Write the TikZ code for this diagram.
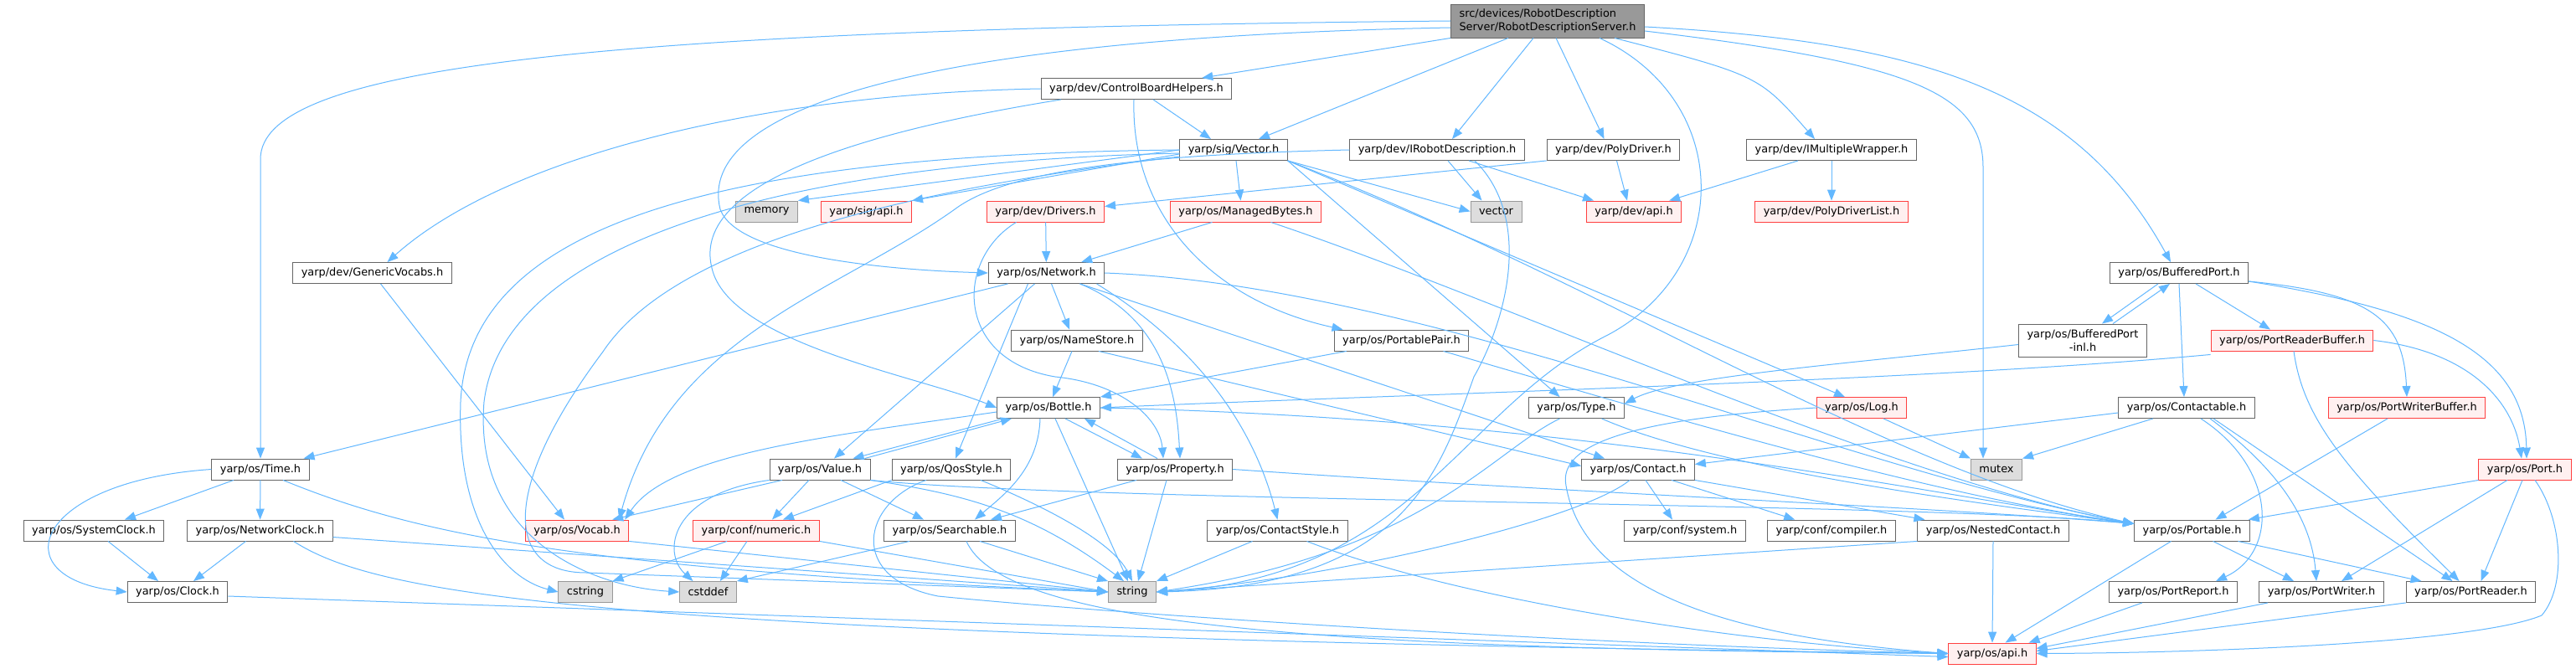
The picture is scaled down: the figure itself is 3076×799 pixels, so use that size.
\documentclass[tikz,border=0pt]{standalone}
\usepackage{fontspec}
\setmainfont{DejaVu Sans}
\usetikzlibrary{arrows.meta}
\definecolor{dep-edge}{HTML}{63B8FF}
\definecolor{dep-line}{HTML}{666666}
\definecolor{dep-root}{HTML}{999999}
\definecolor{dep-sys}{HTML}{DDDDDD}
\definecolor{dep-sysline}{HTML}{999999}
\definecolor{dep-red}{HTML}{FF4040}
\definecolor{dep-redfill}{HTML}{FFF0F0}

\begin{document}
\begin{tikzpicture}[
    x=1pt, y=-1pt,
    font=\fontsize{12.9}{15.5}\selectfont,
    hdr/.style={draw=dep-line, fill=white, line width=0.9pt, minimum height=25pt, inner xsep=10pt, inner ysep=2pt},
    trunc/.style={hdr, draw=dep-red, fill=dep-redfill},
    sys/.style={hdr, draw=dep-sysline, fill=dep-sys},
    rootbox/.style={hdr, fill=dep-root, align=left, minimum height=40pt},
    dep/.style={-{Triangle[length=13pt,width=10pt]}, draw=dep-edge, line width=1pt},
]
\path[use as bounding box, fill=white] (0,0) rectangle (3076,799);

\node[rootbox] (root) at (1848,25) {src/devices/RobotDescription\\Server/RobotDescriptionServer.h};
\node[hdr] (cbh) at (1357,106) {yarp/dev/ControlBoardHelpers.h};
\node[hdr] (sigvec) at (1473,179) {yarp/sig/Vector.h};
\node[hdr] (irobot) at (1716,179) {yarp/dev/IRobotDescription.h};
\node[hdr] (polydrv) at (1926.5,179) {yarp/dev/PolyDriver.h};
\node[hdr] (imulti) at (2187,179) {yarp/dev/IMultipleWrapper.h};
\node[sys] (memory) at (915.5,252.5) {memory};
\node[trunc] (sigapi) at (1034.5,252.5) {yarp/sig/api.h};
\node[trunc] (drivers) at (1248.5,252.5) {yarp/dev/Drivers.h};
\node[trunc] (mbytes) at (1487.5,252.5) {yarp/os/ManagedBytes.h};
\node[sys] (stdvec) at (1786.5,252.5) {vector};
\node[trunc] (devapi) at (1951,252.5) {yarp/dev/api.h};
\node[trunc] (pdlist) at (2187,252.5) {yarp/dev/PolyDriverList.h};
\node[hdr] (genvoc) at (444.5,326) {yarp/dev/GenericVocabs.h};
\node[hdr] (network) at (1249.5,326) {yarp/os/Network.h};
\node[hdr] (bport) at (2602,326) {yarp/os/BufferedPort.h};
\node[hdr] (namestore) at (1286,406.5) {yarp/os/NameStore.h};
\node[hdr] (ppair) at (1673.5,406.5) {yarp/os/PortablePair.h};
\node[hdr, align=center, minimum height=39pt] (bpinl) at (2487,406.5) {yarp/os/BufferedPort\\-inl.h};
\node[trunc] (prbuf) at (2737,406.5) {yarp/os/PortReaderBuffer.h};
\node[hdr] (bottle) at (1252,487) {yarp/os/Bottle.h};
\node[hdr] (type) at (1882.5,487) {yarp/os/Type.h};
\node[trunc] (log) at (2223,487) {yarp/os/Log.h};
\node[hdr] (contactable) at (2611,487) {yarp/os/Contactable.h};
\node[trunc] (pwbuf) at (2874,487) {yarp/os/PortWriterBuffer.h};
\node[hdr] (time) at (311,560.5) {yarp/os/Time.h};
\node[hdr] (value) at (979,560.5) {yarp/os/Value.h};
\node[hdr] (qos) at (1136,560.5) {yarp/os/QosStyle.h};
\node[hdr] (property) at (1403,560.5) {yarp/os/Property.h};
\node[hdr] (contact) at (1956,560.5) {yarp/os/Contact.h};
\node[sys] (mutex) at (2384,560.5) {mutex};
\node[trunc] (port) at (3015,560.5) {yarp/os/Port.h};
\node[hdr] (sysclock) at (112,633.5) {yarp/os/SystemClock.h};
\node[hdr] (netclock) at (310.5,633.5) {yarp/os/NetworkClock.h};
\node[trunc] (vocab) at (689,633.5) {yarp/os/Vocab.h};
\node[trunc] (numeric) at (903,633.5) {yarp/conf/numeric.h};
\node[hdr] (searchable) at (1134,633.5) {yarp/os/Searchable.h};
\node[hdr] (cstyle) at (1525.5,633.5) {yarp/os/ContactStyle.h};
\node[hdr] (confsys) at (2012,633.5) {yarp/conf/system.h};
\node[hdr] (compiler) at (2187,633.5) {yarp/conf/compiler.h};
\node[hdr] (nested) at (2380,633.5) {yarp/os/NestedContact.h};
\node[hdr] (portable) at (2617.5,633.5) {yarp/os/Portable.h};
\node[hdr] (clock) at (212,707) {yarp/os/Clock.h};
\node[sys] (cstring) at (699,707) {cstring};
\node[sys] (cstddef) at (845.5,707) {cstddef};
\node[sys] (string) at (1352,707) {string};
\node[hdr] (preport) at (2595,707) {yarp/os/PortReport.h};
\node[hdr] (pwriter) at (2772,707) {yarp/os/PortWriter.h};
\node[hdr] (preader) at (2950.5,707) {yarp/os/PortReader.h};
\node[trunc] (osapi) at (2379,780.5) {yarp/os/api.h};

\draw[dep] (root.west) .. controls (700,35) and (311,80) .. (311,190) -- (time.north);
\draw[dep] ([yshift=-8pt]root.west) .. controls (1100,45) and (830,130) .. (860,250) .. controls (880,305) and (1050,322) .. (network.west);
\draw[dep] (root.south west) -- ([xshift=-36pt]cbh.north east);
\draw[dep] ([xshift=-47pt]root.south) -- ([xshift=30pt]sigvec.north);
\draw[dep] ([xshift=-17pt]root.south) -- ([xshift=18pt]irobot.north);
\draw[dep] ([xshift=10pt]root.south) -- ([xshift=-11pt]polydrv.north);
\draw[dep] ([xshift=80pt]root.south) .. controls (2100,90) .. ([xshift=-20pt]imulti.north);
\draw[dep] ([xshift=62pt]root.south) .. controls (2070,120) and (2070,320) .. (1920,400) .. controls (1740,490) and (1690,690) .. (string.east);
\draw[dep] ([yshift=-7pt]root.east) .. controls (2300,50) and (2480,110) .. ([xshift=-10pt]bport.north);
\draw[dep] ([yshift=-12pt]root.east) .. controls (2280,75) and (2368,110) .. (2368,200) -- ([xshift=-16pt]mutex.north);

\draw[dep] (cbh.west) .. controls (900,112) and (600,190) .. ([xshift=18pt]genvoc.north);
\draw[dep] ([xshift=20pt]cbh.south) -- ([xshift=-27pt]sigvec.north);
\draw[dep] ([xshift=-90pt]cbh.south) .. controls (950,170) and (830,240) .. (850,320) .. controls (870,410) and (1100,450) .. (bottle.west);
\draw[dep] ([xshift=-3pt]cbh.south) .. controls (1350,260) and (1450,360) .. ([xshift=-70pt]ppair.north);

\draw[dep] (sigvec.west) -- (memory.north east);
\draw[dep] ([yshift=-5pt]sigvec.west) -- (sigapi.north east);
\draw[dep] ([xshift=3pt]sigvec.south) -- ([xshift=-6pt]mbytes.north);
\draw[dep] (sigvec.south east) -- (stdvec.west);
\draw[dep] (sigvec.south east) -- ([xshift=-20pt]type.north);
\draw[dep] (sigvec.south east) -- ([xshift=-20pt]log.north);
\draw[dep] (sigvec.south east) .. controls (1900,330) and (2250,560) .. ([yshift=8pt]portable.west);
\draw[dep] (sigvec.west) .. controls (850,185) and (560,270) .. (550,480) .. controls (545,620) and (600,690) .. (cstring.west);
\draw[dep] ([yshift=-4pt]sigvec.west) .. controls (900,195) and (600,300) .. (578,480) .. controls (565,640) and (700,700) .. (cstddef.west);
\draw[dep] ([yshift=-8pt]sigvec.west) .. controls (1050,230) and (800,300) .. (720,420) .. controls (600,580) and (600,684) .. (700,684) -- (string.west);

\draw[dep] ([xshift=13pt]irobot.south) -- ([xshift=-17pt]stdvec.north);
\draw[dep] ([xshift=38pt]irobot.south) -- ([xshift=-48pt]devapi.north);
\draw[dep] ([xshift=45pt]irobot.south) .. controls (1830,260) and (1800,380) .. (1760,450) .. controls (1720,560) and (1680,700) .. (string.east);
\draw[dep] (irobot.west) .. controls (1350,185) and (1200,205) .. (1140,250) .. controls (1000,350) and (800,400) .. ([xshift=-12pt]vocab.north east);

\draw[dep] ([xshift=4pt]polydrv.south) -- ([xshift=-8pt]devapi.north);
\draw[dep] (polydrv.south west) -- ([yshift=6pt]drivers.east);
\draw[dep] ([xshift=-40pt]imulti.south) -- ([xshift=-15pt]devapi.north east);
\draw[dep] (imulti.south) -- (pdlist.north);

\draw[dep] (drivers) -- (network);
\draw[dep] ([xshift=-35pt]drivers.south) .. controls (1140,310) and (1140,430) .. (1260,450) .. controls (1340,458) and (1385,500) .. ([xshift=-14pt]property.north);
\draw[dep] ([xshift=-40pt]mbytes.south) -- ([xshift=-28pt]network.north east);
\draw[dep] ([xshift=30pt]mbytes.south) .. controls (1800,360) and (2250,570) .. ([yshift=8pt]portable.west);
\draw[dep] ([xshift=10pt]genvoc.south) -- ([xshift=-15pt]vocab.north);

\draw[dep] ([xshift=-46pt]network.south) -- ([xshift=-7pt]time.north east);
\draw[dep] ([xshift=-14pt]network.south) -- ([xshift=17pt]value.north);
\draw[dep] ([xshift=-22pt]network.south) -- ([xshift=5pt]qos.north);
\draw[dep] ([xshift=6pt]network.south) -- ([xshift=-9pt]namestore.north);
\draw[dep] ([xshift=40pt]network.south) .. controls (1390,380) and (1405,470) .. ([xshift=6pt]property.north);
\draw[dep] ([xshift=60pt]network.south) .. controls (1440,420) and (1500,520) .. (cstyle.north);
\draw[dep] ([xshift=40pt]network.south) -- ([xshift=-40pt]contact.north);
\draw[dep] (network.east) .. controls (1700,340) and (2200,560) .. ([yshift=8pt]portable.west);

\draw[dep] ([xshift=-6pt]namestore.south) -- ([xshift=5pt]bottle.north);
\draw[dep] ([xshift=26pt]namestore.south) -- ([yshift=4pt]contact.west);
\draw[dep] ([xshift=15pt]ppair.south west) -- (bottle.north east);
\draw[dep] ([xshift=50pt]ppair.south) .. controls (2000,500) and (2300,590) .. ([yshift=8pt]portable.west);

\draw[dep] ([xshift=8pt]bottle.south west) -- ([xshift=-21pt]value.north east);
\draw[dep] ([xshift=-7pt]value.north east) -- ([xshift=18pt]bottle.south west);
\draw[dep] ([xshift=20pt]bottle.south) -- ([xshift=-39pt]property.north);
\draw[dep] ([xshift=-21pt]property.north) -- ([xshift=43pt]bottle.south);
\draw[dep] ([xshift=-10pt]bottle.south) .. controls (1240,560) and (1200,590) .. ([xshift=30pt]searchable.north);
\draw[dep] ([xshift=8pt]bottle.south) -- ([xshift=-5pt]string.north);
\draw[dep] ([yshift=-5pt]bottle.west) .. controls (1000,520) and (800,540) .. ([xshift=-5pt]vocab.north east);
\draw[dep] (bottle.east) .. controls (1900,500) and (2300,590) .. ([yshift=8pt]portable.west);

\draw[dep] ([xshift=-20pt]type.south) .. controls (1780,540) and (1700,660) .. (string.east);
\draw[dep] ([xshift=30pt]type.south) .. controls (2050,560) and (2350,600) .. ([yshift=8pt]portable.west);
\draw[dep] ([xshift=26pt]log.south) -- (mutex.north west);
\draw[dep] (log.west) .. controls (1950,500) and (1860,530) .. (1870,580) .. controls (1890,700) and (2050,760) .. (osapi.west);

\draw[dep] ([xshift=-25pt]bport.south) -- ([xshift=23pt]bpinl.north);
\draw[dep] ([xshift=36pt]bpinl.north) -- ([xshift=-11pt]bport.south);
\draw[dep] ([xshift=20pt]bport.south) -- ([xshift=-26pt]prbuf.north);
\draw[dep] (bport.south) -- ([xshift=-3pt]contactable.north);
\draw[dep] ([yshift=-10pt]bport.east) .. controls (2830,350) and (2870,380) .. (pwbuf.north);
\draw[dep] ([yshift=-10pt]bport.east) .. controls (2900,370) and (3015,420) .. ([xshift=2pt]port.north);
\draw[dep] ([yshift=-5pt]bpinl.west) .. controls (2200,435) and (2000,450) .. ([yshift=5pt]type.east);

\draw[dep] ([yshift=-4pt]prbuf.south west) .. controls (2300,455) and (1700,470) .. (bottle.east);
\draw[dep] ([xshift=2pt]prbuf.south) .. controls (2750,500) and (2800,560) .. ([xshift=-14pt]preader.north);
\draw[dep] (prbuf.east) .. controls (2950,420) and (3000,480) .. ([xshift=-4pt]port.north);

\draw[dep] ([xshift=-40pt]contactable.south) -- (mutex.north east);
\draw[dep] ([yshift=-6pt]contactable.west) -- ([yshift=6pt]contact.east);
\draw[dep] ([xshift=17pt]contactable.south) .. controls (2720,560) and (2720,660) .. ([xshift=51pt]preport.north);
\draw[dep] ([xshift=28pt]contactable.south) .. controls (2720,560) and (2760,620) .. ([xshift=-6pt]pwriter.north);
\draw[dep] ([xshift=32pt]contactable.south) -- ([xshift=-22pt]preader.north);
\draw[dep] ([xshift=-23pt]pwbuf.south) -- ([xshift=28pt]portable.north);

\draw[dep] ([xshift=-13pt]value.south) -- ([xshift=19pt]numeric.north);
\draw[dep] ([xshift=25pt]value.south) -- ([xshift=-31pt]searchable.north);
\draw[dep] (value.south east) .. controls (1150,590) and (1230,610) .. ([xshift=-10pt]string.north);
\draw[dep] (value.south west) .. controls (800,590) and (790,660) .. ([xshift=-18pt]cstddef.north);
\draw[dep] ([xshift=-45pt]value.south) -- ([xshift=-20pt]vocab.north east);
\draw[dep] (value.south east) .. controls (1300,600) and (2300,600) .. ([yshift=8pt]portable.west);

\draw[dep] (qos.south west) -- ([xshift=32pt]numeric.north);
\draw[dep] ([xshift=35pt]qos.south) .. controls (1260,610) and (1330,650) .. (string.north);
\draw[dep] ([xshift=-30pt]qos.south) .. controls (1030,600) and (1010,690) .. (1120,712) .. controls (1350,735) and (1900,770) .. (osapi.west);

\draw[dep] ([xshift=-46pt]property.south) -- ([xshift=49pt]searchable.north);
\draw[dep] ([xshift=-10pt]property.south) -- ([xshift=7pt]string.north);
\draw[dep] (property.east) .. controls (1900,590) and (2300,605) .. ([yshift=8pt]portable.west);

\draw[dep] ([xshift=-10pt]contact.south) .. controls (1890,620) and (1600,690) .. (string.east);
\draw[dep] ([xshift=9pt]contact.south) -- ([xshift=-15pt]confsys.north);
\draw[dep] ([xshift=40pt]contact.south) -- ([xshift=33pt]compiler.north west);
\draw[dep] (contact.south east) -- ([xshift=9pt]nested.north west);

\draw[dep] ([xshift=-32pt]time.south) -- ([xshift=37pt]sysclock.north);
\draw[dep] (time) -- (netclock);
\draw[dep] (time.west) .. controls (40,575) and (0,690) .. (clock.west);
\draw[dep] ([xshift=27pt]time.south) .. controls (500,640) and (700,680) .. (string.west);
\draw[dep] ([xshift=17pt]sysclock.south) -- ([xshift=-23pt]clock.north);
\draw[dep] ([xshift=-17pt]netclock.south) -- ([xshift=19pt]clock.north);
\draw[dep] ([yshift=-8pt]netclock.east) -- (string.west);
\draw[dep] ([xshift=40pt]netclock.south) .. controls (450,710) and (700,760) .. (osapi.west);
\draw[dep] ([yshift=-5pt]clock.east) -- ([yshift=-4pt]osapi.west);

\draw[dep] (vocab.south east) -- (string.west);
\draw[dep] ([xshift=-11pt]numeric.south) -- ([xshift=-20pt]cstddef.north east);
\draw[dep] ([xshift=-35pt]numeric.south) -- (cstring.north east);
\draw[dep] (numeric.south east) -- (string.west);
\draw[dep] ([xshift=-48pt]searchable.south) -- (cstddef.north east);
\draw[dep] ([xshift=36pt]searchable.south) -- (string.north west);
\draw[dep] ([xshift=20pt]searchable.south) .. controls (1200,750) and (1600,775) .. (osapi.west);
\draw[dep] ([xshift=-30pt]cstyle.south) -- (string.north east);
\draw[dep] ([xshift=35pt]cstyle.south) .. controls (1750,720) and (2100,770) .. (osapi.west);
\draw[dep] (nested.south west) -- (string.east);
\draw[dep] (nested.south) -- (osapi.north);

\draw[dep] ([xshift=-25pt]portable.south) -- ([xshift=-37pt]osapi.north east);
\draw[dep] ([xshift=25pt]portable.south) -- ([xshift=-33pt]pwriter.north);
\draw[dep] ([xshift=55pt]portable.south) -- ([xshift=-59pt]preader.north);
\draw[dep] (port.south west) -- ([xshift=-2pt]portable.north east);
\draw[dep] ([xshift=-21pt]port.south) -- ([xshift=24pt]pwriter.north);
\draw[dep] ([xshift=-3pt]port.south) -- ([xshift=12pt]preader.north);
\draw[dep] ([xshift=12pt]port.south) .. controls (3060,620) and (3065,700) .. (3035,735) .. controls (2950,770) and (2600,780) .. (osapi.east);
\draw[dep] ([xshift=-37pt]preport.south) -- ([xshift=-9pt]osapi.north east);
\draw[dep] ([xshift=-64pt]pwriter.south) -- ([yshift=6pt]osapi.east);
\draw[dep] (preader.south west) -- ([yshift=3pt]osapi.east);
\end{tikzpicture}
\end{document}
